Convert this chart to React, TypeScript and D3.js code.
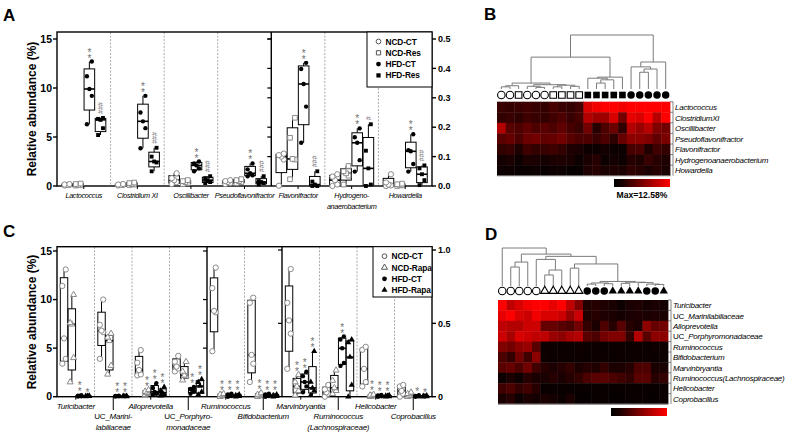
import React from "react";
import * as d3 from "d3";

const FONT = "Liberation Sans, Arial, Helvetica, sans-serif";
const GRAY = "#8a8a8a";

// ---------- panel A : box plots ----------
const aCategories = ["Lactococcus", "Clostridium XI", "Oscillibacter", "Pseudoflavonifractor", "Flavonifractor", "Hydrogeno-|anaerobacterium", "Howardella"];
const aGroups = ["NCD-CT", "NCD-Res", "HFD-CT", "HFD-Res"];
const aAxisOf = [0, 0, 0, 0, 1, 1, 1];
const aLeftTicks = [0, 5, 10, 15];
const aRightTicks = [0, 0.1, 0.2, 0.3, 0.4, 0.5];
const aLactococcus = [[0.05, 0.1, 0.1, 0.15, 0.2], [0.05, 0.1, 0.1, 0.2, 0.25], [6.3, 9.2, 9.9, 11.2, 12.7], [5.2, 5.9, 6.75, 6.85, 6.95]];
const aClostridium = [[0.05, 0.1, 0.1, 0.15, 0.2], [0.1, 0.15, 0.2, 0.3, 0.35], [3.85, 5.9, 6.6, 7.5, 9.2], [1.5, 2.4, 2.5, 3.0, 3.9]];
const aOscillibacter = [[0.2, 0.4, 0.6, 0.8, 1.3], [0.2, 0.3, 0.4, 0.5, 0.6], [1.5, 1.8, 2.1, 2.3, 2.5], [0.3, 0.4, 0.6, 0.8, 1.0]];
const aPseudoflavonifractor = [[0.2, 0.3, 0.4, 0.5, 0.6], [0.3, 0.4, 0.5, 0.6, 0.7], [1.0, 1.1, 1.3, 1.7, 2.3], [0.15, 0.3, 0.4, 0.5, 1.0]];
const aFlavonifractor = [[0.001, 0.09, 0.1, 0.105, 0.11], [0.023, 0.09, 0.092, 0.164, 0.232], [0.147, 0.27, 0.347, 0.398, 0.419], [0, 0, 0.005, 0.015, 0.05]];
const aHydrogeno = [[0, 0.005, 0.02, 0.032, 0.04], [0.005, 0.035, 0.043, 0.05, 0.068], [0.049, 0.088, 0.147, 0.166, 0.196], [0, 0.005, 0.06, 0.12, 0.21]];
const aHowardella = [[0, 0.002, 0.005, 0.012, 0.04], [0, 0.002, 0.004, 0.006, 0.008], [0.049, 0.075, 0.118, 0.122, 0.176], [0.003, 0.02, 0.04, 0.06, 0.07]];
const aMarks = [[0, 2, "**"], [0, 3, "###"], [1, 2, "**"], [1, 3, "###"], [2, 2, "**"], [2, 3, "###"], [3, 2, "**"], [3, 3, "###"], [4, 2, "**"], [4, 3, "###"], [5, 2, "**"], [5, 3, "#"], [6, 2, "**"], [6, 3, "###"]];

// ---------- panel C : box plots ----------
const cCategories = ["Turicibacter", "UC_Marini-|labiliaceae", "Alloprevotella", "UC_Porphyro-|monadaceae", "Ruminococcus", "Bifidobacterium", "Marvinbryantia", "Ruminococcus|(Lachnospiraceae)", "Helicobacter", "Coprobacillus"];
const cGroups = ["NCD-CT", "NCD-Rapa", "HFD-CT", "HFD-Rapa"];
const cAxisOf = [0, 0, 0, 0, 1, 1, 2, 2, 2, 2];
const cLabelRow = [0, 1, 0, 1, 0, 1, 0, 1, 0, 1];
const cLeftTicks = [0, 5, 10, 15];
const cRightTicks = [0, 0.5, 1];
const cTuricibacter = [[3.4, 3.9, 6.0, 11.4, 13.1], [1.5, 4.0, 7.45, 7.6, 10.5], [0.02, 0.05, 0.08, 0.1, 0.15], [0.02, 0.04, 0.06, 0.08, 0.1]];
const cMarinilabiliaceae = [[3.9, 6.65, 6.8, 7.4, 10.0], [2.3, 3.2, 5.75, 6.1, 6.5], [0.02, 0.04, 0.06, 0.08, 0.1], [0.01, 0.03, 0.05, 0.06, 0.08]];
const cAlloprevotella = [[2.2, 2.3, 2.75, 3.5, 4.8], [0.2, 0.3, 0.4, 0.55, 0.7], [0.2, 0.3, 0.5, 0.9, 1.4], [0.1, 0.2, 0.4, 0.6, 1.0]];
const cPorphyromonadaceae = [[2.6, 2.9, 3.1, 3.6, 4.2], [1.7, 2.1, 2.2, 2.6, 3.6], [0.3, 0.5, 0.7, 0.8, 1.0], [0.2, 0.5, 1.1, 1.5, 1.8]];
const cRuminococcus = [[0.62, 1.15, 1.17, 1.48, 1.76], [0, 0.01, 0.02, 0.03, 0.04], [0, 0.01, 0.02, 0.03, 0.04], [0, 0.005, 0.01, 0.02, 0.03]];
const cBifidobacterium = [[0.2, 0.45, 0.57, 1.28, 1.35], [0, 0.01, 0.02, 0.03, 0.05], [0, 0.01, 0.02, 0.03, 0.04], [0, 0.005, 0.01, 0.02, 0.03]];
const cMarvinbryantia = [[0.19, 0.43, 0.52, 0.64, 0.87], [0.01, 0.04, 0.07, 0.1, 0.15], [0.03, 0.07, 0.1, 0.14, 0.17], [0.01, 0.04, 0.06, 0.1, 0.31]];
const cRuminococcusL = [[0, 0.02, 0.03, 0.05, 0.08], [0.02, 0.04, 0.06, 0.11, 0.18], [0.21, 0.23, 0.33, 0.39, 0.41], [0, 0.08, 0.27, 0.37, 0.39]];
const cHelicobacter = [[0.07, 0.1, 0.19, 0.32, 0.34], [0, 0.003, 0.006, 0.01, 0.015], [0, 0.003, 0.005, 0.008, 0.012], [0, 0.002, 0.004, 0.006, 0.01]];
const cCoprobacillus = [[0, 0.02, 0.04, 0.07, 0.08], [0, 0.005, 0.01, 0.02, 0.03], [0, 0.002, 0.004, 0.006, 0.01], [0, 0.002, 0.003, 0.005, 0.008]];
const cMarks = [[0, 2, "**"], [0, 3, "*"], [1, 2, "**"], [1, 3, "**"], [2, 1, "**"], [2, 2, "**"], [2, 3, "**"], [3, 2, "**"], [3, 3, "**"],
  [4, 1, "**"], [4, 2, "**"], [4, 3, "**"], [5, 1, "**"], [5, 2, "**"], [5, 3, "**"], [6, 1, "**"], [6, 2, "**"], [6, 3, "**"],
  [7, 2, "**"], [8, 1, "**"], [8, 2, "**"], [8, 3, "**"], [9, 2, "*"], [9, 3, "*"]];

// ---------- panel B : heatmap ----------
const bRows = ["Lactococcus", "ClostridiumXI", "Oscillibacter", "Pseudoflavonifractor", "Flavonifractor", "Hydrogenoanaerobacterium", "Howardella"];
const bColumns = ["o", "o", "s", "o", "o", "o", "s", "s", "s", "s", "S", "S", "S", "S", "S", "O", "O", "O", "O", "O"];
const bLactococcus = [0.22, 0.2, 0.22, 0.25, 0.22, 0.2, 0.28, 0.22, 0.2, 0.26, 0.85, 0.95, 1, 1, 0.95, 1, 1, 1, 1, 1];
const bClostridium = [0.2, 0.22, 0.18, 0.25, 0.22, 0.2, 0.25, 0.3, 0.22, 0.28, 0.7, 0.62, 0.62, 0.85, 0.45, 0.9, 0.85, 1, 0.72, 1];
const bOscillibacter = [0.7, 0.35, 0.3, 0.38, 0.3, 0.35, 0.3, 0.38, 0.28, 0.22, 0.45, 0.15, 0.3, 0.42, 0.18, 0.7, 0.6, 0.72, 0.5, 0.45];
const bPseudoflavonifractor = [0.35, 0.4, 0.3, 0.42, 0.45, 0.38, 0.4, 0.45, 0.35, 0.3, 0.3, 0.22, 0.3, 0.18, 0.4, 0.55, 0.55, 0.5, 0.38, 0.48];
const bFlavonifractor = [0.2, 0.22, 0.12, 0.25, 0.2, 0.22, 0.25, 0.2, 0.12, 0.1, 0.05, 0.05, 0.08, 0.05, 0.05, 0.28, 0.3, 0.12, 0.25, 0.2];
const bHydrogeno = [0.08, 0.1, 0.05, 0.12, 0.1, 0.08, 0.1, 0.12, 0.1, 0.05, 0.1, 0.15, 0.05, 0.08, 0.05, 0.15, 0.12, 0.22, 0.15, 0.12];
const bHowardella = [0.05, 0.05, 0.03, 0.04, 0.05, 0.03, 0.05, 0.05, 0.03, 0.03, 0.12, 0.15, 0.1, 0.12, 0.1, 0.18, 0.15, 0.1, 0.15, 0.1];
// dendrogram: [height, left, right] or leaf index
const bTree = [1,
  [0.59,
    [0.11, [0.06, [0.04, 0, 1], 2], [0.08, [0.05, 3, [0.03, 4, 5]], [0.07, [0.04, 6, 7], [0.05, 8, 9]]]],
    [0.22, [0.2, 10, [0.17, [0.11, 11, 12], 13]], 14]],
  [0.5, [0.41, 15, [0.37, [0.31, 16, 17], 18]], 19]];

// ---------- panel D : heatmap ----------
const dRows = ["Turicibacter", "UC_Marinilabiliaceae", "Alloprevotella", "UC_Porphyromonadaceae", "Ruminococcus", "Bifidobacterium", "Marvinbryantia", "Ruminococcus(Lachnospiraceae)", "Helicobacter", "Coprobacillus"];
const dColumns = ["o", "o", "o", "o", "o", "t", "t", "t", "t", "t", "O", "O", "O", "T", "T", "T", "T", "O", "O", "T"];
const dTuricibacter = [1, 0.75, 0.85, 0.95, 1, 1, 0.9, 1, 0.75, 0.5, 0.12, 0.15, 0.12, 0.1, 0.05, 0.1, 0.12, 0.08, 0.1, 0.08];
const dMarinilabiliaceae = [0.9, 1, 0.85, 0.8, 0.95, 0.85, 0.85, 0.8, 0.6, 0.8, 0.12, 0.15, 0.12, 0.1, 0.08, 0.1, 0.12, 0.1, 0.12, 0.1];
const dAlloprevotella = [0.75, 0.7, 0.7, 0.8, 0.8, 0.4, 0.4, 0.35, 0.3, 0.45, 0.2, 0.1, 0.3, 0.15, 0.35, 0.15, 0.1, 0.55, 0.4, 0.45];
const dPorphyromonadaceae = [0.8, 0.65, 0.85, 0.8, 0.75, 0.75, 0.6, 0.55, 0.65, 0.7, 0.35, 0.3, 0.45, 0.5, 0.5, 0.2, 0.7, 0.35, 0.55, 0.55];
const dRuminococcus = [0.5, 0.45, 0.55, 0.6, 0.35, 0.05, 0.05, 0.04, 0.05, 0.06, 0.05, 0.05, 0.04, 0.05, 0.05, 0.04, 0.05, 0.04, 0.06, 0.05];
const dBifidobacterium = [0.3, 0.2, 0.45, 0.25, 0.55, 0.05, 0.04, 0.05, 0.04, 0.05, 0.04, 0.05, 0.05, 0.04, 0.05, 0.04, 0.05, 0.05, 0.04, 0.05];
const dMarvinbryantia = [0.35, 0.4, 0.3, 0.45, 0.25, 0.15, 0.1, 0.15, 0.2, 0.1, 0.15, 0.12, 0.2, 0.1, 0.1, 0.15, 0.3, 0.3, 0.1, 0.1];
const dRuminococcusL = [0.05, 0.1, 0.05, 0.15, 0.1, 0.1, 0.15, 0.1, 0.15, 0.2, 0.3, 0.35, 0.35, 0.3, 0.25, 0.2, 0.35, 0.35, 0.15, 0.2];
const dHelicobacter = [0.25, 0.3, 0.2, 0.25, 0.15, 0.03, 0.03, 0.04, 0.03, 0.03, 0.03, 0.04, 0.03, 0.03, 0.03, 0.04, 0.03, 0.03, 0.03, 0.04];
const dCoprobacillus = [0.1, 0.15, 0.05, 0.1, 0.08, 0.1, 0.08, 0.05, 0.1, 0.03, 0.03, 0.03, 0.04, 0.03, 0.03, 0.03, 0.04, 0.03, 0.03, 0.03];
const dTree = [1, 0,
  [0.84,
    [0.63, [0.5, 1, 2], 3],
    [0.78,
      [0.7, 4, [0.42, [0.29, 5, 6], 7]],
      [0.58, [0.47, 8, 9],
        [0.12, [0.08, [0.05, 10, 11], [0.06, 12, 13]], [0.1, [0.07, 14, 15], [0.09, 16, [0.05, 17, [0.04, 18, 19]]]]]]]]];

// Prism style quartiles, position (n+1)p
const quart = (s: number[], p: number) => {
  const pos = (s.length + 1) * p - 1;
  const lo = Math.max(0, Math.floor(pos));
  const hi = Math.min(s.length - 1, Math.ceil(pos));
  return s[lo] + (s[hi] - s[lo]) * (pos - Math.floor(pos));
};

const symbolPath = (kind: string, size: number) => {
  const k = kind.toLowerCase();
  const t = k === "s" ? d3.symbolSquare : k === "t" ? d3.symbolTriangle : d3.symbolCircle;
  return d3.symbol(t, size)() as string;
};

const Glyph = ({ kind, x, y, size, stroke = "#000", sw = 1 }: any) => {
  const filled = kind === kind.toUpperCase();
  return (
    <path
      d={symbolPath(kind, size)}
      transform={`translate(${x},${y})`}
      fill={filled ? "#000" : "#fff"}
      stroke={filled ? "none" : stroke}
      strokeWidth={sw}
    />
  );
};

const Label = ({ x, y, text, anchor = "middle", size = 8, spacing = -0.25 }: any) => {
  const uc = text.startsWith("UC_");
  return (
    <text x={x} y={y} textAnchor={anchor} fontSize={size} fontFamily={FONT} letterSpacing={spacing} fill="#000">
      {uc ? <tspan>UC_</tspan> : null}
      <tspan fontStyle="italic">{uc ? text.slice(3) : text}</tspan>
    </text>
  );
};

const Stack = ({ x, y, text }: any) => {
  // symbols stacked vertically, bottom one centred at y
  const chars = text.split("");
  const hash = text[0] === "#";
  const gap = hash ? 3.9 : 6;
  return (
    <g fill="#707070" fontFamily={FONT}>
      {chars.map((c: string, i: number) => {
        const cy = y - i * gap;
        return hash ? (
          <text key={i} x={x} y={cy + 2.5} fontSize={7} textAnchor="middle" transform={`rotate(90,${x},${cy})`}>#</text>
        ) : (
          <text key={i} x={x} y={cy + 6} fontSize={10} textAnchor="middle">*</text>
        );
      })}
    </g>
  );
};

function BoxPanel(props: any) {
  const { cats, data, axisOf, scales, symbols, marks, x0, x1, top, bottom, solid, mids, labelRow, labelBase, labelSize, labelSpacing, leftTicks, rightTicks, rightFmt, legend, legendBox } = props;
  const xc = d3.scaleBand<number>().domain(d3.range(cats.length)).range([x0, x1]);
  const step = xc.bandwidth() / 4.8;
  const gx = (c: number, g: number) => (xc(c) as number) + step * (0.9 + g);
  const bw = step * 0.95;
  const jitter = [-1, 1, 0, -1, 1];
  const yLeft = scales[0];
  const yRight = scales[scales.length - 1];

  return (
    <g fontFamily={FONT}>
      {/* separators */}
      {d3.range(1, cats.length).map((i) => {
        const x = xc(i) as number;
        return solid.includes(i) ? (
          <line key={i} x1={x} x2={x} y1={top} y2={bottom} stroke="#000" strokeWidth={1.4} />
        ) : (
          <line key={i} x1={x} x2={x} y1={top} y2={bottom} stroke="#aaa" strokeWidth={1} strokeDasharray="2,1.5" />
        );
      })}
      {/* middle axes ticks */}
      {mids.map((m: any, k: number) => {
        const x = xc(m.at) as number;
        return (
          <g key={k}>
            {m.ticks.map(([si, vals]: any, j: number) =>
              vals.map((v: number) => (
                <line key={`${j}-${v}`} x1={x - 4} x2={x} y1={scales[si](v)} y2={scales[si](v)} stroke="#000" strokeWidth={1.2} />
              )))}
            {m.labels.map(([si, v]: any) => (
              <text key={v} x={x + 3} y={scales[si](v) + 3.5} fontSize={10} fontWeight="bold">{v}</text>
            ))}
          </g>
        );
      })}
      {/* frame */}
      <rect x={x0} y={top} width={x1 - x0} height={bottom - top} fill="none" stroke="#000" strokeWidth={1.4} />
      {leftTicks.map((v: number) => (
        <g key={`l${v}`}>
          <line x1={x0 - 4} x2={x0} y1={yLeft(v)} y2={yLeft(v)} stroke="#000" strokeWidth={1.4} />
          <text x={x0 - 5} y={yLeft(v) + 3.6} fontSize={10.5} fontWeight="bold" textAnchor="end">{v}</text>
        </g>
      ))}
      {rightTicks.map((v: number) => (
        <g key={`r${v}`}>
          <line x1={x1} x2={x1 + 4} y1={yRight(v)} y2={yRight(v)} stroke="#000" strokeWidth={1.4} />
          <text x={x1 + 6} y={yRight(v) + 3.2} fontSize={9} fontWeight="bold">{rightFmt(v)}</text>
        </g>
      ))}
      {/* legend */}
      <rect x={legendBox[0]} y={top} width={x1 - legendBox[0]} height={legendBox[1] - top} fill="#fff" stroke="#000" strokeWidth={1} />
      {legend.map((name: string, i: number) => {
        const ly = top + 9.5 + i * 11.3;
        return (
          <g key={name}>
            <Glyph kind={symbols[i]} x={legendBox[0] + 11.5} y={ly} size={symbols[i].toLowerCase() === "t" ? 16 : 18} stroke="#555" />
            <text x={legendBox[0] + 18.5} y={ly + 3} fontSize={8.3} fontWeight="bold" letterSpacing={-0.1}>{name}</text>
          </g>
        );
      })}
      {/* boxes */}
      {data.map((groups: number[][], c: number) =>
        groups.map((vals: number[], g: number) => {
          const y = scales[axisOf[c]];
          const s = [...vals].sort(d3.ascending);
          const q1 = quart(s, 0.25), med = quart(s, 0.5), q3 = quart(s, 0.75);
          const cx = gx(c, g);
          const kind = symbols[g];
          const open = kind === kind.toLowerCase();
          return (
            <g key={`${c}-${g}`}>
              <line x1={cx} x2={cx} y1={y(s[0])} y2={y(s[s.length - 1])} stroke="#000" strokeWidth={1} />
              <rect x={cx - bw / 2} y={y(q3)} width={bw} height={Math.max(0.5, y(q1) - y(q3))} fill="#fff" stroke="#000" strokeWidth={1} />
              <line x1={cx - bw / 2} x2={cx + bw / 2} y1={y(med)} y2={y(med)} stroke="#000" strokeWidth={1.6} />
              {s.map((v, i) => (
                <Glyph key={i} kind={kind} x={cx + jitter[i] * step * 0.22} y={y(v)}
                  size={kind.toLowerCase() === "t" ? 16 : open ? 22 : 15} stroke={GRAY} />
              ))}
            </g>
          );
        }))}
      {/* significance marks */}
      {marks.map(([c, g, t]: any, i: number) => {
        const y = scales[axisOf[c]];
        const mx = d3.max(data[c][g] as number[]) as number;
        return <Stack key={i} x={gx(c, g)} y={y(mx) - 6} text={t} />;
      })}
      {/* category labels and x ticks */}
      {cats.map((name: string, c: number) => {
        const row = labelRow[c];
        const cx = (xc(c) as number) + xc.bandwidth() / 2;
        const lines = name.split("|");
        return (
          <g key={name}>
            <line x1={cx} x2={cx} y1={bottom} y2={row === 1 ? labelBase[1] - 9 : bottom + 3} stroke="#000" strokeWidth={1} />
            {lines.map((l, j) => (
              <Label key={j} x={cx} y={labelBase[row] + j * 10.5} text={l} size={labelSize} spacing={labelSpacing} />
            ))}
          </g>
        );
      })}
    </g>
  );
}

function Heatmap(props: any) {
  const { rows, matrix, cols, x0, x1, y0, y1, symY, tree, treeTop, treeBottom, bar, caption, gid } = props;
  const x = d3.scaleBand<number>().domain(d3.range(cols.length)).range([x0, x1]);
  const y = d3.scaleBand<number>().domain(d3.range(rows.length)).range([y0, y1]);
  const color = d3.scaleLinear<string>().domain([0, 1]).range(["#000000", "#ff0000"]);
  const h = d3.scaleLinear().domain([0, 1]).range([treeBottom, treeTop]);
  const segs: number[][] = [];
  const walk = (n: any): number => {
    if (typeof n === "number") return (x(n) as number) + x.bandwidth() / 2;
    const [hh, a, b] = n;
    const la = walk(a), lb = walk(b);
    const ha = typeof a === "number" ? 0 : a[0];
    const hb = typeof b === "number" ? 0 : b[0];
    segs.push([la, h(ha), la, h(hh)], [lb, h(hb), lb, h(hh)], [la, h(hh), lb, h(hh)]);
    return (la + lb) / 2;
  };
  walk(tree);
  return (
    <g fontFamily={FONT}>
      <defs>
        <linearGradient id={gid} x1="0" x2="1" y1="0" y2="0">
          <stop offset="0" stopColor="#000" />
          <stop offset="0.15" stopColor="#1a0000" />
          <stop offset="1" stopColor="#ff0000" />
        </linearGradient>
      </defs>
      {segs.map((s, i) => (
        <line key={i} x1={s[0]} y1={s[1]} x2={s[2]} y2={s[3]} stroke="#7a7a7a" strokeWidth={1} />
      ))}
      {cols.map((k: string, i: number) => (
        <Glyph key={i} kind={k} x={(x(i) as number) + x.bandwidth() / 2} y={symY}
          size={k.toLowerCase() === "t" ? 30 : 44} sw={1.1} />
      ))}
      {matrix.map((row: number[], r: number) =>
        row.map((v, c) => (
          <rect key={`${r}-${c}`} x={x(c)} y={y(r)} width={x.bandwidth() + 0.4} height={y.bandwidth() + 0.4} fill={color(v)} />
        )))}
      <line x1={x0} x2={x1} y1={y1} y2={y1} stroke="#999" strokeWidth={0.8} />
      {rows.map((name: string, r: number) => (
        <g key={name}>
          <line x1={x1} x2={x1 + 3} y1={y(r) as number} y2={y(r) as number} stroke="#666" strokeWidth={0.8} />
          <line x1={x1 + 3} x2={x1 + 3} y1={y(r) as number} y2={(y(r) as number) + y.bandwidth()} stroke="#666" strokeWidth={0.8} />
          <Label x={x1 + 5} y={(y(r) as number) + y.bandwidth() / 2 + 3} text={name} anchor="start" />
        </g>
      ))}
      <rect x={bar[0]} y={bar[1]} width={bar[2] - bar[0]} height={bar[3] - bar[1]} fill={`url(#${gid})`} />
      {caption ? (
        <text x={(bar[0] + bar[2]) / 2} y={bar[3] + 11} fontSize={8.6} fontWeight="bold" textAnchor="middle">{caption}</text>
      ) : null}
    </g>
  );
}

export default function App() {
  const aY = [d3.scaleLinear([0, 15], [186, 39]), d3.scaleLinear([0, 0.5], [186, 39])];
  const cY = [d3.scaleLinear([0, 15], [396.7, 251]), d3.scaleLinear([0, 2], [396.7, 250]), d3.scaleLinear([0, 1], [396.7, 250])];
  const aData = [aLactococcus, aClostridium, aOscillibacter, aPseudoflavonifractor, aFlavonifractor, aHydrogeno, aHowardella];
  const cData = [cTuricibacter, cMarinilabiliaceae, cAlloprevotella, cPorphyromonadaceae, cRuminococcus, cBifidobacterium, cMarvinbryantia, cRuminococcusL, cHelicobacter, cCoprobacillus];
  const bMatrix = [bLactococcus, bClostridium, bOscillibacter, bPseudoflavonifractor, bFlavonifractor, bHydrogeno, bHowardella];
  const dMatrix = [dTuricibacter, dMarinilabiliaceae, dAlloprevotella, dPorphyromonadaceae, dRuminococcus, dBifidobacterium, dMarvinbryantia, dRuminococcusL, dHelicobacter, dCoprobacillus];

  return (
    <svg width={787} height={436} style={{ position: "absolute", left: 0, top: 0, background: "#fff" }} fontFamily={FONT}>
      <rect width={787} height={436} fill="#fff" />
      {/* panel letters */}
      <text x={3} y={21} fontSize={17} fontWeight="bold">A</text>
      <text x={484} y={20} fontSize={17} fontWeight="bold">B</text>
      <text x={3} y={237} fontSize={17} fontWeight="bold">C</text>
      <text x={485} y={240} fontSize={17} fontWeight="bold">D</text>

      <text transform="translate(36,109) rotate(-90)" fontSize={12} fontWeight="bold" textAnchor="middle">Relative abundance (%)</text>
      <text transform="translate(36,322) rotate(-90)" fontSize={12} fontWeight="bold" textAnchor="middle">Relative abundance (%)</text>

      <BoxPanel
        cats={aCategories} data={aData} axisOf={aAxisOf} scales={aY}
        symbols={["o", "s", "O", "S"]} marks={aMarks}
        x0={57} x1={432} top={32} bottom={186} solid={[4]}
        mids={[{ at: 4, ticks: [[0, [5, 10, 15]], [1, [0.1, 0.2, 0.3, 0.4, 0.5]]], labels: [] }]}
        labelRow={aCategories.map(() => 0)} labelBase={[198, 198]} labelSize={7.3} labelSpacing={-0.35}
        leftTicks={aLeftTicks} rightTicks={aRightTicks} rightFmt={d3.format(".1f")}
        legend={aGroups} legendBox={[367, 87]}
      />
      <BoxPanel
        cats={cCategories} data={cData} axisOf={cAxisOf} scales={cY}
        symbols={["o", "t", "O", "T"]} marks={cMarks}
        x0={57} x1={432} top={246.7} bottom={396.7} solid={[4, 6]}
        mids={[{ at: 4, ticks: [[0, [5, 10, 15]], [1, [1]]], labels: [[1, 1]] }, { at: 6, ticks: [[2, [1]], [1, [1]]], labels: [] }]}
        labelRow={cLabelRow} labelBase={[409, 419]} labelSize={8} labelSpacing={-0.25}
        leftTicks={cLeftTicks} rightTicks={cRightTicks} rightFmt={(v: number) => (v === 0 ? "0" : d3.format(".1f")(v))}
        legend={cGroups} legendBox={[373, 297]}
      />

      <Heatmap gid="gradB" rows={bRows} matrix={bMatrix} cols={bColumns}
        x0={497} x1={670} y0={101.7} y1={175.7} symY={95}
        tree={bTree} treeTop={35} treeBottom={89}
        bar={[614, 179, 670, 187]} caption="Max=12.58%" />
      <Heatmap gid="gradD" rows={dRows} matrix={dMatrix} cols={dColumns}
        x0={498} x1={668} y0={300} y1={404} symY={291}
        tree={dTree} treeTop={248} treeBottom={286}
        bar={[611, 408, 667, 416]} caption="" />
    </svg>
  );
}
